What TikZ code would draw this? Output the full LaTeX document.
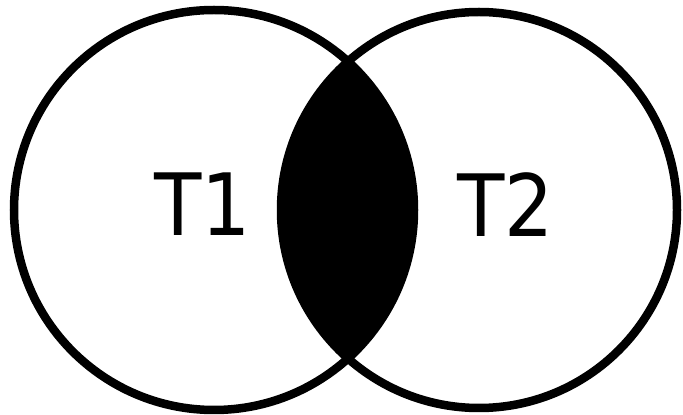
\documentclass[tikz,border=0pt]{standalone}
\usepackage{fontspec}
\newfontfamily\labelfont{DejaVu Sans Condensed}
\begin{document}
\begin{tikzpicture}[x=1pt,y=1pt,
  setcircle/.style={circle,draw=black,line width=8.5pt,minimum size=400pt,inner sep=0pt},
  setlabel/.style={inner sep=0pt,font=\labelfont\fontsize{86}{86}\selectfont}]
\useasboundingbox (0,0) rectangle (683,415);
\begin{scope}
  \clip (214,205) circle (200);
  \fill[black] (479,205) circle (200);
\end{scope}
\node[setcircle] (c1) at (214,205) {};
\node[setcircle,minimum size=396pt] (c2) at (479,205) {};
\node[setlabel] (t1) at (203,210.5) {T1};
\node[setlabel] (t2) at (506,210.5) {T2};
\end{tikzpicture}
\end{document}
